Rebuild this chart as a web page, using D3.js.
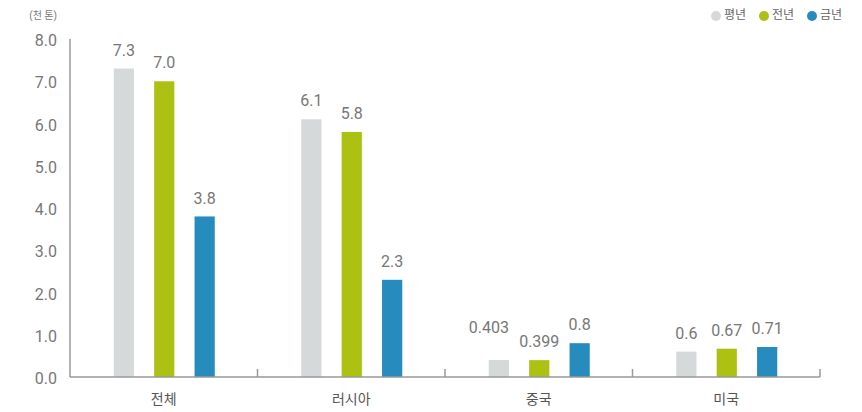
<!DOCTYPE html>
<html>
<head>
<meta charset="utf-8">
<script src="https://cdn.jsdelivr.net/npm/d3@7"></script>
<style>
  body { margin: 0; background: #fff; }
  text { font-family: Roboto, "Noto Sans CJK KR", sans-serif; }
</style>
</head>
<body>
<script>
// chart data
let categories = ["전체", "러시아", "중국", "미국"];
let seriesNames = ["평년", "전년", "금년"];
let normalYear = [7.3, 6.1, 0.403, 0.6];
let lastYear = [7.0, 5.8, 0.399, 0.67];
let thisYear = [3.8, 2.3, 0.8, 0.71];
let valueLabels = [
    ["7.3", "6.1", "0.403", "0.6"],
    ["7.0", "5.8", "0.399", "0.67"],
    ["3.8", "2.3", "0.8", "0.71"]
];
let yTicks = [0, 1, 2, 3, 4, 5, 6, 7, 8];
let colors = ["#d5d9da", "#adc113", "#268bbd"];

let series = [normalYear, lastYear, thisYear];

let svg = d3.select("body")
            .append("svg")
            .attr("width", 862)
            .attr("height", 412);

let x = d3.scaleBand()
          .domain(categories)
          .range([70, 820]);
let xInner = d3.scaleBand()
               .domain(seriesNames)
               .range([-50, 51])
               .paddingInner(0.5);
let y = d3.scaleLinear()
          .domain([0, 8])
          .range([377, 39]);

// y axis line + labels
svg.append("line")
   .attr("x1", 70).attr("x2", 70)
   .attr("y1", y(8)).attr("y2", y(0))
   .style("stroke", "#999").style("stroke-width", 1.5);

svg.append("g")
   .selectAll("text")
   .data(yTicks)
   .enter()
   .append("text")
   .attr("x", 57)
   .attr("y", d => y(d) + 3)
   .style("dominant-baseline", "middle")
   .style("text-anchor", "end")
   .style("font-size", "16px")
   .style("fill", "#777")
   .text(d => d.toFixed(1));

svg.append("text")
   .attr("x", 57).attr("y", 19)
   .style("text-anchor", "end")
   .style("font-size", "10px")
   .style("fill", "#777")
   .text("(천 톤)");

// bars
let groups = svg.append("g")
                .selectAll("g")
                .data(series)
                .enter()
                .append("g")
                .style("fill", (d, i) => colors[i]);

groups.selectAll("rect")
      .data((d, i) => d.map((v, j) => ({ v: v, s: i, c: j })))
      .enter()
      .append("rect")
      .attr("x", d => x(categories[d.c]) + x.bandwidth() / 2 + xInner(seriesNames[d.s]))
      .attr("y", d => y(d.v))
      .attr("width", xInner.bandwidth())
      .attr("height", d => y(0) - y(d.v));

// x axis
svg.append("line")
   .attr("x1", 70).attr("x2", 820)
   .attr("y1", y(0)).attr("y2", y(0))
   .style("stroke", "#999").style("stroke-width", 1.5);

svg.append("g")
   .selectAll("line")
   .data(categories.slice(1).concat(["end"]))
   .enter()
   .append("line")
   .attr("x1", (d, i) => x(categories[0]) + x.bandwidth() * (i + 1))
   .attr("x2", (d, i) => x(categories[0]) + x.bandwidth() * (i + 1))
   .attr("y1", y(0)).attr("y2", y(0) - 8)
   .style("stroke", "#999").style("stroke-width", 1.5);

svg.append("g")
   .selectAll("text")
   .data(categories)
   .enter()
   .append("text")
   .attr("x", d => x(d) + x.bandwidth() / 2)
   .attr("y", 400)
   .style("dominant-baseline", "middle")
   .style("text-anchor", "middle")
   .style("font-size", "14px")
   .style("fill", "#555")
   .text(d => d);

// value labels, nudged up/left when they would collide with the neighbour
let labels = [];
series.forEach((s, i) => s.forEach((v, j) => {
    labels.push({
        text: valueLabels[i][j],
        cx: x(categories[j]) + x.bandwidth() / 2 + xInner(seriesNames[i]) + xInner.bandwidth() / 2,
        cy: y(v) - 17,
        s: i, c: j
    });
}));
labels.forEach(l => {
    let next = labels.find(o => o.c === l.c && o.s === l.s + 1);
    if (next && Math.abs(next.cy - l.cy) < 14 && l.text.length + next.text.length > 9) {
        l.cy = next.cy - 14;
        l.cx -= 10;
    }
});

svg.append("g")
   .selectAll("text")
   .data(labels)
   .enter()
   .append("text")
   .attr("x", d => d.cx)
   .attr("y", d => d.cy)
   .style("dominant-baseline", "middle")
   .style("text-anchor", "middle")
   .style("font-size", "16px")
   .style("fill", "#777")
   .text(d => d.text);

// legend
let legendX = [716, 764, 812];
let legend = svg.append("g")
                .selectAll("g")
                .data(seriesNames)
                .enter()
                .append("g")
                .attr("transform", (d, i) => "translate(" + legendX[i] + ",16)");
legend.append("circle")
      .attr("r", 5)
      .style("fill", (d, i) => colors[i]);
legend.append("text")
      .attr("x", 8)
      .style("dominant-baseline", "middle")
      .style("font-size", "12px")
      .style("fill", "#666")
      .text(d => d);
</script>
</body>
</html>
